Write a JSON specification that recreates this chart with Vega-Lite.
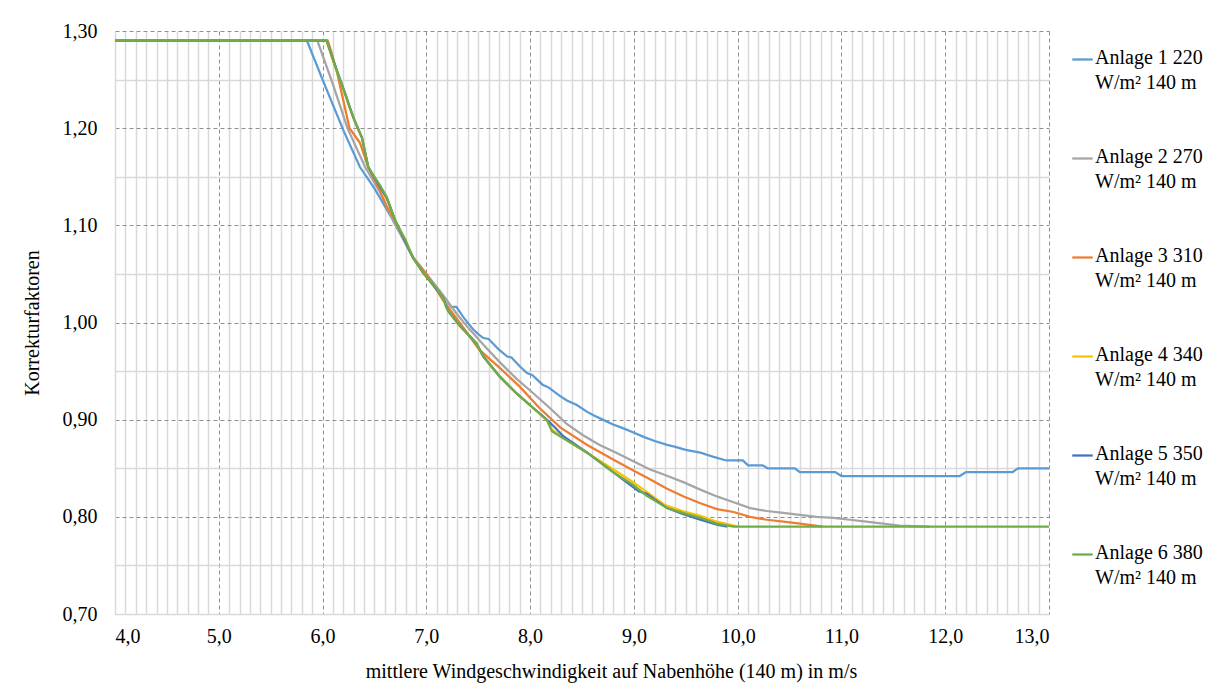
{
  "$schema": "https://vega.github.io/schema/vega-lite/v6.json",
  "width": 934,
  "height": 583,
  "autosize": {"type": "none"},
  "padding": {"left": 115, "top": 31, "right": 163, "bottom": 76},
  "background": "white",
  "data": {"values": [
    {"s": "Anlage 1 220 W/m² 140 m", "x": 4.0, "y": 1.29},
    {"s": "Anlage 1 220 W/m² 140 m", "x": 5.85, "y": 1.29},
    {"s": "Anlage 1 220 W/m² 140 m", "x": 6.0, "y": 1.25},
    {"s": "Anlage 1 220 W/m² 140 m", "x": 6.2, "y": 1.198},
    {"s": "Anlage 1 220 W/m² 140 m", "x": 6.36, "y": 1.16},
    {"s": "Anlage 1 220 W/m² 140 m", "x": 6.5, "y": 1.138},
    {"s": "Anlage 1 220 W/m² 140 m", "x": 6.68, "y": 1.105},
    {"s": "Anlage 1 220 W/m² 140 m", "x": 6.88, "y": 1.066},
    {"s": "Anlage 1 220 W/m² 140 m", "x": 7.0, "y": 1.05},
    {"s": "Anlage 1 220 W/m² 140 m", "x": 7.16, "y": 1.028},
    {"s": "Anlage 1 220 W/m² 140 m", "x": 7.24, "y": 1.016},
    {"s": "Anlage 1 220 W/m² 140 m", "x": 7.29, "y": 1.016},
    {"s": "Anlage 1 220 W/m² 140 m", "x": 7.36, "y": 1.005},
    {"s": "Anlage 1 220 W/m² 140 m", "x": 7.45, "y": 0.993},
    {"s": "Anlage 1 220 W/m² 140 m", "x": 7.5, "y": 0.988},
    {"s": "Anlage 1 220 W/m² 140 m", "x": 7.55, "y": 0.984},
    {"s": "Anlage 1 220 W/m² 140 m", "x": 7.6, "y": 0.983},
    {"s": "Anlage 1 220 W/m² 140 m", "x": 7.7, "y": 0.972},
    {"s": "Anlage 1 220 W/m² 140 m", "x": 7.78, "y": 0.965},
    {"s": "Anlage 1 220 W/m² 140 m", "x": 7.82, "y": 0.964},
    {"s": "Anlage 1 220 W/m² 140 m", "x": 7.9, "y": 0.955},
    {"s": "Anlage 1 220 W/m² 140 m", "x": 7.97, "y": 0.948},
    {"s": "Anlage 1 220 W/m² 140 m", "x": 8.02, "y": 0.946},
    {"s": "Anlage 1 220 W/m² 140 m", "x": 8.12, "y": 0.936},
    {"s": "Anlage 1 220 W/m² 140 m", "x": 8.18, "y": 0.933},
    {"s": "Anlage 1 220 W/m² 140 m", "x": 8.28, "y": 0.925},
    {"s": "Anlage 1 220 W/m² 140 m", "x": 8.35, "y": 0.92},
    {"s": "Anlage 1 220 W/m² 140 m", "x": 8.45, "y": 0.915},
    {"s": "Anlage 1 220 W/m² 140 m", "x": 8.55, "y": 0.908},
    {"s": "Anlage 1 220 W/m² 140 m", "x": 8.62, "y": 0.904},
    {"s": "Anlage 1 220 W/m² 140 m", "x": 8.72, "y": 0.899},
    {"s": "Anlage 1 220 W/m² 140 m", "x": 8.8, "y": 0.895},
    {"s": "Anlage 1 220 W/m² 140 m", "x": 8.9, "y": 0.891},
    {"s": "Anlage 1 220 W/m² 140 m", "x": 8.99, "y": 0.887},
    {"s": "Anlage 1 220 W/m² 140 m", "x": 9.1, "y": 0.882},
    {"s": "Anlage 1 220 W/m² 140 m", "x": 9.2, "y": 0.878},
    {"s": "Anlage 1 220 W/m² 140 m", "x": 9.32, "y": 0.874},
    {"s": "Anlage 1 220 W/m² 140 m", "x": 9.4, "y": 0.872},
    {"s": "Anlage 1 220 W/m² 140 m", "x": 9.5, "y": 0.869},
    {"s": "Anlage 1 220 W/m² 140 m", "x": 9.64, "y": 0.866},
    {"s": "Anlage 1 220 W/m² 140 m", "x": 9.76, "y": 0.862},
    {"s": "Anlage 1 220 W/m² 140 m", "x": 9.89, "y": 0.858},
    {"s": "Anlage 1 220 W/m² 140 m", "x": 10.05, "y": 0.858},
    {"s": "Anlage 1 220 W/m² 140 m", "x": 10.1, "y": 0.853},
    {"s": "Anlage 1 220 W/m² 140 m", "x": 10.24, "y": 0.853},
    {"s": "Anlage 1 220 W/m² 140 m", "x": 10.29, "y": 0.85},
    {"s": "Anlage 1 220 W/m² 140 m", "x": 10.55, "y": 0.85},
    {"s": "Anlage 1 220 W/m² 140 m", "x": 10.6, "y": 0.846},
    {"s": "Anlage 1 220 W/m² 140 m", "x": 10.94, "y": 0.846},
    {"s": "Anlage 1 220 W/m² 140 m", "x": 11.0, "y": 0.842},
    {"s": "Anlage 1 220 W/m² 140 m", "x": 12.14, "y": 0.842},
    {"s": "Anlage 1 220 W/m² 140 m", "x": 12.2, "y": 0.846},
    {"s": "Anlage 1 220 W/m² 140 m", "x": 12.65, "y": 0.846},
    {"s": "Anlage 1 220 W/m² 140 m", "x": 12.7, "y": 0.85},
    {"s": "Anlage 1 220 W/m² 140 m", "x": 13.0, "y": 0.85},

    {"s": "Anlage 2 270 W/m² 140 m", "x": 4.0, "y": 1.29},
    {"s": "Anlage 2 270 W/m² 140 m", "x": 5.95, "y": 1.29},
    {"s": "Anlage 2 270 W/m² 140 m", "x": 6.1, "y": 1.245},
    {"s": "Anlage 2 270 W/m² 140 m", "x": 6.24, "y": 1.2},
    {"s": "Anlage 2 270 W/m² 140 m", "x": 6.41, "y": 1.16},
    {"s": "Anlage 2 270 W/m² 140 m", "x": 6.55, "y": 1.135},
    {"s": "Anlage 2 270 W/m² 140 m", "x": 6.68, "y": 1.105},
    {"s": "Anlage 2 270 W/m² 140 m", "x": 6.87, "y": 1.067},
    {"s": "Anlage 2 270 W/m² 140 m", "x": 7.0, "y": 1.05},
    {"s": "Anlage 2 270 W/m² 140 m", "x": 7.16, "y": 1.028},
    {"s": "Anlage 2 270 W/m² 140 m", "x": 7.3, "y": 1.008},
    {"s": "Anlage 2 270 W/m² 140 m", "x": 7.4, "y": 0.995},
    {"s": "Anlage 2 270 W/m² 140 m", "x": 7.55, "y": 0.977},
    {"s": "Anlage 2 270 W/m² 140 m", "x": 7.7, "y": 0.96},
    {"s": "Anlage 2 270 W/m² 140 m", "x": 7.87, "y": 0.942},
    {"s": "Anlage 2 270 W/m² 140 m", "x": 8.0, "y": 0.93},
    {"s": "Anlage 2 270 W/m² 140 m", "x": 8.19, "y": 0.912},
    {"s": "Anlage 2 270 W/m² 140 m", "x": 8.35, "y": 0.896},
    {"s": "Anlage 2 270 W/m² 140 m", "x": 8.51, "y": 0.884},
    {"s": "Anlage 2 270 W/m² 140 m", "x": 8.67, "y": 0.874},
    {"s": "Anlage 2 270 W/m² 140 m", "x": 8.83, "y": 0.866},
    {"s": "Anlage 2 270 W/m² 140 m", "x": 9.0, "y": 0.857},
    {"s": "Anlage 2 270 W/m² 140 m", "x": 9.15, "y": 0.849},
    {"s": "Anlage 2 270 W/m² 140 m", "x": 9.3, "y": 0.843},
    {"s": "Anlage 2 270 W/m² 140 m", "x": 9.47, "y": 0.836},
    {"s": "Anlage 2 270 W/m² 140 m", "x": 9.64, "y": 0.828},
    {"s": "Anlage 2 270 W/m² 140 m", "x": 9.8, "y": 0.821},
    {"s": "Anlage 2 270 W/m² 140 m", "x": 9.96, "y": 0.815},
    {"s": "Anlage 2 270 W/m² 140 m", "x": 10.12, "y": 0.809},
    {"s": "Anlage 2 270 W/m² 140 m", "x": 10.28, "y": 0.806},
    {"s": "Anlage 2 270 W/m² 140 m", "x": 10.44, "y": 0.804},
    {"s": "Anlage 2 270 W/m² 140 m", "x": 10.6, "y": 0.802},
    {"s": "Anlage 2 270 W/m² 140 m", "x": 10.76, "y": 0.8},
    {"s": "Anlage 2 270 W/m² 140 m", "x": 10.92, "y": 0.799},
    {"s": "Anlage 2 270 W/m² 140 m", "x": 11.08, "y": 0.797},
    {"s": "Anlage 2 270 W/m² 140 m", "x": 11.24, "y": 0.795},
    {"s": "Anlage 2 270 W/m² 140 m", "x": 11.4, "y": 0.793},
    {"s": "Anlage 2 270 W/m² 140 m", "x": 11.56, "y": 0.791},
    {"s": "Anlage 2 270 W/m² 140 m", "x": 11.85, "y": 0.79},

    {"s": "Anlage 3 310 W/m² 140 m", "x": 4.0, "y": 1.29},
    {"s": "Anlage 3 310 W/m² 140 m", "x": 6.05, "y": 1.29},
    {"s": "Anlage 3 310 W/m² 140 m", "x": 6.08, "y": 1.28},
    {"s": "Anlage 3 310 W/m² 140 m", "x": 6.14, "y": 1.257},
    {"s": "Anlage 3 310 W/m² 140 m", "x": 6.26, "y": 1.2},
    {"s": "Anlage 3 310 W/m² 140 m", "x": 6.36, "y": 1.185},
    {"s": "Anlage 3 310 W/m² 140 m", "x": 6.44, "y": 1.16},
    {"s": "Anlage 3 310 W/m² 140 m", "x": 6.55, "y": 1.136},
    {"s": "Anlage 3 310 W/m² 140 m", "x": 6.62, "y": 1.119},
    {"s": "Anlage 3 310 W/m² 140 m", "x": 6.7, "y": 1.105},
    {"s": "Anlage 3 310 W/m² 140 m", "x": 6.87, "y": 1.067},
    {"s": "Anlage 3 310 W/m² 140 m", "x": 7.0, "y": 1.05},
    {"s": "Anlage 3 310 W/m² 140 m", "x": 7.16, "y": 1.023},
    {"s": "Anlage 3 310 W/m² 140 m", "x": 7.32, "y": 1.0},
    {"s": "Anlage 3 310 W/m² 140 m", "x": 7.51, "y": 0.972},
    {"s": "Anlage 3 310 W/m² 140 m", "x": 7.71, "y": 0.953},
    {"s": "Anlage 3 310 W/m² 140 m", "x": 7.9, "y": 0.934},
    {"s": "Anlage 3 310 W/m² 140 m", "x": 8.09, "y": 0.912},
    {"s": "Anlage 3 310 W/m² 140 m", "x": 8.29, "y": 0.892},
    {"s": "Anlage 3 310 W/m² 140 m", "x": 8.55, "y": 0.874},
    {"s": "Anlage 3 310 W/m² 140 m", "x": 8.8, "y": 0.859},
    {"s": "Anlage 3 310 W/m² 140 m", "x": 8.99, "y": 0.848},
    {"s": "Anlage 3 310 W/m² 140 m", "x": 9.15, "y": 0.839},
    {"s": "Anlage 3 310 W/m² 140 m", "x": 9.32, "y": 0.829},
    {"s": "Anlage 3 310 W/m² 140 m", "x": 9.48, "y": 0.821},
    {"s": "Anlage 3 310 W/m² 140 m", "x": 9.64, "y": 0.814},
    {"s": "Anlage 3 310 W/m² 140 m", "x": 9.8, "y": 0.808},
    {"s": "Anlage 3 310 W/m² 140 m", "x": 9.96, "y": 0.805},
    {"s": "Anlage 3 310 W/m² 140 m", "x": 10.12, "y": 0.8},
    {"s": "Anlage 3 310 W/m² 140 m", "x": 10.28, "y": 0.797},
    {"s": "Anlage 3 310 W/m² 140 m", "x": 10.44, "y": 0.795},
    {"s": "Anlage 3 310 W/m² 140 m", "x": 10.6, "y": 0.793},
    {"s": "Anlage 3 310 W/m² 140 m", "x": 10.82, "y": 0.79},

    {"s": "Anlage 4 340 W/m² 140 m", "x": 4.0, "y": 1.29},
    {"s": "Anlage 4 340 W/m² 140 m", "x": 6.04, "y": 1.29},
    {"s": "Anlage 4 340 W/m² 140 m", "x": 6.1, "y": 1.27},
    {"s": "Anlage 4 340 W/m² 140 m", "x": 6.2, "y": 1.24},
    {"s": "Anlage 4 340 W/m² 140 m", "x": 6.28, "y": 1.215},
    {"s": "Anlage 4 340 W/m² 140 m", "x": 6.38, "y": 1.19},
    {"s": "Anlage 4 340 W/m² 140 m", "x": 6.44, "y": 1.16},
    {"s": "Anlage 4 340 W/m² 140 m", "x": 6.55, "y": 1.14},
    {"s": "Anlage 4 340 W/m² 140 m", "x": 6.62, "y": 1.127},
    {"s": "Anlage 4 340 W/m² 140 m", "x": 6.7, "y": 1.105},
    {"s": "Anlage 4 340 W/m² 140 m", "x": 6.87, "y": 1.067},
    {"s": "Anlage 4 340 W/m² 140 m", "x": 6.97, "y": 1.051},
    {"s": "Anlage 4 340 W/m² 140 m", "x": 7.16, "y": 1.026},
    {"s": "Anlage 4 340 W/m² 140 m", "x": 7.21, "y": 1.012},
    {"s": "Anlage 4 340 W/m² 140 m", "x": 7.32, "y": 0.997},
    {"s": "Anlage 4 340 W/m² 140 m", "x": 7.48, "y": 0.979},
    {"s": "Anlage 4 340 W/m² 140 m", "x": 7.55, "y": 0.965},
    {"s": "Anlage 4 340 W/m² 140 m", "x": 7.71, "y": 0.944},
    {"s": "Anlage 4 340 W/m² 140 m", "x": 7.87, "y": 0.927},
    {"s": "Anlage 4 340 W/m² 140 m", "x": 8.03, "y": 0.912},
    {"s": "Anlage 4 340 W/m² 140 m", "x": 8.16, "y": 0.9},
    {"s": "Anlage 4 340 W/m² 140 m", "x": 8.21, "y": 0.89},
    {"s": "Anlage 4 340 W/m² 140 m", "x": 8.3, "y": 0.883},
    {"s": "Anlage 4 340 W/m² 140 m", "x": 8.38, "y": 0.877},
    {"s": "Anlage 4 340 W/m² 140 m", "x": 8.55, "y": 0.866},
    {"s": "Anlage 4 340 W/m² 140 m", "x": 8.8, "y": 0.849},
    {"s": "Anlage 4 340 W/m² 140 m", "x": 8.99, "y": 0.836},
    {"s": "Anlage 4 340 W/m² 140 m", "x": 9.12, "y": 0.826},
    {"s": "Anlage 4 340 W/m² 140 m", "x": 9.3, "y": 0.812},
    {"s": "Anlage 4 340 W/m² 140 m", "x": 9.47, "y": 0.806},
    {"s": "Anlage 4 340 W/m² 140 m", "x": 9.64, "y": 0.801},
    {"s": "Anlage 4 340 W/m² 140 m", "x": 9.8, "y": 0.795},
    {"s": "Anlage 4 340 W/m² 140 m", "x": 10.0, "y": 0.79},

    {"s": "Anlage 5 350 W/m² 140 m", "x": 4.0, "y": 1.29},
    {"s": "Anlage 5 350 W/m² 140 m", "x": 6.04, "y": 1.29},
    {"s": "Anlage 5 350 W/m² 140 m", "x": 6.12, "y": 1.265},
    {"s": "Anlage 5 350 W/m² 140 m", "x": 6.22, "y": 1.235},
    {"s": "Anlage 5 350 W/m² 140 m", "x": 6.3, "y": 1.21},
    {"s": "Anlage 5 350 W/m² 140 m", "x": 6.38, "y": 1.19},
    {"s": "Anlage 5 350 W/m² 140 m", "x": 6.44, "y": 1.16},
    {"s": "Anlage 5 350 W/m² 140 m", "x": 6.55, "y": 1.14},
    {"s": "Anlage 5 350 W/m² 140 m", "x": 6.62, "y": 1.128},
    {"s": "Anlage 5 350 W/m² 140 m", "x": 6.7, "y": 1.105},
    {"s": "Anlage 5 350 W/m² 140 m", "x": 6.87, "y": 1.067},
    {"s": "Anlage 5 350 W/m² 140 m", "x": 6.97, "y": 1.051},
    {"s": "Anlage 5 350 W/m² 140 m", "x": 7.16, "y": 1.026},
    {"s": "Anlage 5 350 W/m² 140 m", "x": 7.21, "y": 1.012},
    {"s": "Anlage 5 350 W/m² 140 m", "x": 7.32, "y": 0.997},
    {"s": "Anlage 5 350 W/m² 140 m", "x": 7.48, "y": 0.979},
    {"s": "Anlage 5 350 W/m² 140 m", "x": 7.55, "y": 0.965},
    {"s": "Anlage 5 350 W/m² 140 m", "x": 7.71, "y": 0.944},
    {"s": "Anlage 5 350 W/m² 140 m", "x": 7.87, "y": 0.927},
    {"s": "Anlage 5 350 W/m² 140 m", "x": 8.03, "y": 0.912},
    {"s": "Anlage 5 350 W/m² 140 m", "x": 8.16, "y": 0.9},
    {"s": "Anlage 5 350 W/m² 140 m", "x": 8.24, "y": 0.892},
    {"s": "Anlage 5 350 W/m² 140 m", "x": 8.32, "y": 0.883},
    {"s": "Anlage 5 350 W/m² 140 m", "x": 8.4, "y": 0.877},
    {"s": "Anlage 5 350 W/m² 140 m", "x": 8.55, "y": 0.866},
    {"s": "Anlage 5 350 W/m² 140 m", "x": 8.8, "y": 0.846},
    {"s": "Anlage 5 350 W/m² 140 m", "x": 8.95, "y": 0.834},
    {"s": "Anlage 5 350 W/m² 140 m", "x": 9.05, "y": 0.826},
    {"s": "Anlage 5 350 W/m² 140 m", "x": 9.12, "y": 0.824},
    {"s": "Anlage 5 350 W/m² 140 m", "x": 9.32, "y": 0.809},
    {"s": "Anlage 5 350 W/m² 140 m", "x": 9.47, "y": 0.803},
    {"s": "Anlage 5 350 W/m² 140 m", "x": 9.64, "y": 0.797},
    {"s": "Anlage 5 350 W/m² 140 m", "x": 9.8, "y": 0.792},
    {"s": "Anlage 5 350 W/m² 140 m", "x": 9.9, "y": 0.79},

    {"s": "Anlage 6 380 W/m² 140 m", "x": 4.0, "y": 1.29},
    {"s": "Anlage 6 380 W/m² 140 m", "x": 6.04, "y": 1.29},
    {"s": "Anlage 6 380 W/m² 140 m", "x": 6.1, "y": 1.27},
    {"s": "Anlage 6 380 W/m² 140 m", "x": 6.15, "y": 1.255},
    {"s": "Anlage 6 380 W/m² 140 m", "x": 6.23, "y": 1.232},
    {"s": "Anlage 6 380 W/m² 140 m", "x": 6.26, "y": 1.222},
    {"s": "Anlage 6 380 W/m² 140 m", "x": 6.32, "y": 1.205},
    {"s": "Anlage 6 380 W/m² 140 m", "x": 6.38, "y": 1.19},
    {"s": "Anlage 6 380 W/m² 140 m", "x": 6.44, "y": 1.16},
    {"s": "Anlage 6 380 W/m² 140 m", "x": 6.5, "y": 1.15},
    {"s": "Anlage 6 380 W/m² 140 m", "x": 6.55, "y": 1.142},
    {"s": "Anlage 6 380 W/m² 140 m", "x": 6.62, "y": 1.129},
    {"s": "Anlage 6 380 W/m² 140 m", "x": 6.7, "y": 1.105},
    {"s": "Anlage 6 380 W/m² 140 m", "x": 6.8, "y": 1.085},
    {"s": "Anlage 6 380 W/m² 140 m", "x": 6.87, "y": 1.067},
    {"s": "Anlage 6 380 W/m² 140 m", "x": 6.97, "y": 1.051},
    {"s": "Anlage 6 380 W/m² 140 m", "x": 7.1, "y": 1.035},
    {"s": "Anlage 6 380 W/m² 140 m", "x": 7.16, "y": 1.026},
    {"s": "Anlage 6 380 W/m² 140 m", "x": 7.19, "y": 1.016},
    {"s": "Anlage 6 380 W/m² 140 m", "x": 7.21, "y": 1.012},
    {"s": "Anlage 6 380 W/m² 140 m", "x": 7.32, "y": 0.997},
    {"s": "Anlage 6 380 W/m² 140 m", "x": 7.48, "y": 0.979},
    {"s": "Anlage 6 380 W/m² 140 m", "x": 7.55, "y": 0.965},
    {"s": "Anlage 6 380 W/m² 140 m", "x": 7.71, "y": 0.944},
    {"s": "Anlage 6 380 W/m² 140 m", "x": 7.87, "y": 0.927},
    {"s": "Anlage 6 380 W/m² 140 m", "x": 8.03, "y": 0.912},
    {"s": "Anlage 6 380 W/m² 140 m", "x": 8.16, "y": 0.9},
    {"s": "Anlage 6 380 W/m² 140 m", "x": 8.21, "y": 0.888},
    {"s": "Anlage 6 380 W/m² 140 m", "x": 8.3, "y": 0.882},
    {"s": "Anlage 6 380 W/m² 140 m", "x": 8.38, "y": 0.877},
    {"s": "Anlage 6 380 W/m² 140 m", "x": 8.55, "y": 0.866},
    {"s": "Anlage 6 380 W/m² 140 m", "x": 8.8, "y": 0.846},
    {"s": "Anlage 6 380 W/m² 140 m", "x": 8.99, "y": 0.833},
    {"s": "Anlage 6 380 W/m² 140 m", "x": 9.12, "y": 0.822},
    {"s": "Anlage 6 380 W/m² 140 m", "x": 9.32, "y": 0.809},
    {"s": "Anlage 6 380 W/m² 140 m", "x": 9.47, "y": 0.804},
    {"s": "Anlage 6 380 W/m² 140 m", "x": 9.64, "y": 0.799},
    {"s": "Anlage 6 380 W/m² 140 m", "x": 9.8, "y": 0.793},
    {"s": "Anlage 6 380 W/m² 140 m", "x": 9.96, "y": 0.79},
    {"s": "Anlage 6 380 W/m² 140 m", "x": 13.0, "y": 0.79}
  ]},
  "mark": {"type": "line", "strokeWidth": 2.25, "clip": true},
  "encoding": {
    "x": {
      "field": "x", "type": "quantitative",
      "scale": {"domain": [4, 13], "nice": false, "zero": false},
      "axis": {
        "title": "mittlere Windgeschwindigkeit auf Nabenhöhe (140 m) in m/s",
        "values": [4.0,4.1,4.2,4.3,4.4,4.5,4.6,4.7,4.8,4.9,5.0,5.1,5.2,5.3,5.4,5.5,5.6,5.7,5.8,5.9,6.0,6.1,6.2,6.3,6.4,6.5,6.6,6.7,6.8,6.9,7.0,7.1,7.2,7.3,7.4,7.5,7.6,7.7,7.8,7.9,8.0,8.1,8.2,8.3,8.4,8.5,8.6,8.7,8.8,8.9,9.0,9.1,9.2,9.3,9.4,9.5,9.6,9.7,9.8,9.9,10.0,10.1,10.2,10.3,10.4,10.5,10.6,10.7,10.8,10.9,11.0,11.1,11.2,11.3,11.4,11.5,11.6,11.7,11.8,11.9,12.0,12.1,12.2,12.3,12.4,12.5,12.6,12.7,12.8,12.9,13.0],
        "labelExpr": "abs(datum.value - round(datum.value)) < 0.01 ? replace(format(datum.value, '.1f'), '.', ',') : ''",
        "labelOverlap": false,
        "labelPadding": 12,
        "ticks": false,
        "domain": true,
        "domainColor": "#d9d9d9",
        "domainWidth": 1.5,
        "grid": true,
        "gridColor": {"condition": {"test": "abs(datum.value - round(datum.value)) < 0.01", "value": "#8f8f8f"}, "value": "#d9d9d9"},
        "gridDash": {"condition": {"test": "abs(datum.value - round(datum.value)) < 0.01", "value": [4, 3]}, "value": []},
        "gridWidth": {"condition": {"test": "abs(datum.value - round(datum.value)) < 0.01", "value": 1}, "value": 1.5},
        "titleX": 496,
        "titlePadding": 15
      }
    },
    "y": {
      "field": "y", "type": "quantitative",
      "scale": {"domain": [0.7, 1.3], "nice": false, "zero": false},
      "axis": {
        "title": "Korrekturfaktoren",
        "values": [0.7,0.75,0.8,0.85,0.9,0.95,1.0,1.05,1.1,1.15,1.2,1.25,1.3],
        "labelExpr": "round(datum.value * 100) % 10 == 0 ? replace(format(datum.value, '.2f'), '.', ',') : ''",
        "labelOverlap": false,
        "labelPadding": 18,
        "ticks": false,
        "domain": true,
        "domainColor": "#d9d9d9",
        "domainWidth": 1.5,
        "grid": true,
        "gridColor": {"condition": {"test": "round(datum.value * 100) % 10 == 0", "value": "#8f8f8f"}, "value": "#d9d9d9"},
        "gridDash": {"condition": {"test": "round(datum.value * 100) % 10 == 0", "value": [4, 3]}, "value": []},
        "gridWidth": {"condition": {"test": "round(datum.value * 100) % 10 == 0", "value": 1}, "value": 1.5},
        "titlePadding": 20
      }
    },
    "color": {
      "field": "s", "type": "nominal",
      "scale": {
        "domain": ["Anlage 1 220 W/m² 140 m", "Anlage 2 270 W/m² 140 m", "Anlage 3 310 W/m² 140 m", "Anlage 4 340 W/m² 140 m", "Anlage 5 350 W/m² 140 m", "Anlage 6 380 W/m² 140 m"],
        "range": ["#5B9BD5", "#A5A5A5", "#ED7D31", "#FFC000", "#4472C4", "#70AD47"]
      },
      "legend": {
        "title": null,
        "orient": "none",
        "legendX": 956,
        "legendY": 17,
        "symbolType": "stroke",
        "symbolSize": 420,
        "symbolStrokeWidth": 2.25,
        "labelExpr": "[slice(datum.label, 0, 12), slice(datum.label, 13)]",
        "labelFont": "Liberation Serif",
        "labelFontSize": 20,
        "labelColor": "#000000",
        "labelOffset": 1,
        "labelLimit": 200,
        "rowPadding": 53,
        "encode": {"labels": {"update": {"lineHeight": {"value": 25}, "baseline": {"value": "top"}, "dy": {"value": -12}}}}
      }
    }
  },
  "config": {
    "view": {"stroke": null},
    "font": "Liberation Serif",
    "axis": {
      "labelFont": "Liberation Serif",
      "labelFontSize": 20,
      "labelColor": "#000000",
      "titleFont": "Liberation Serif",
      "titleFontSize": 20,
      "titleFontWeight": "normal",
      "titleColor": "#000000"
    }
  }
}
